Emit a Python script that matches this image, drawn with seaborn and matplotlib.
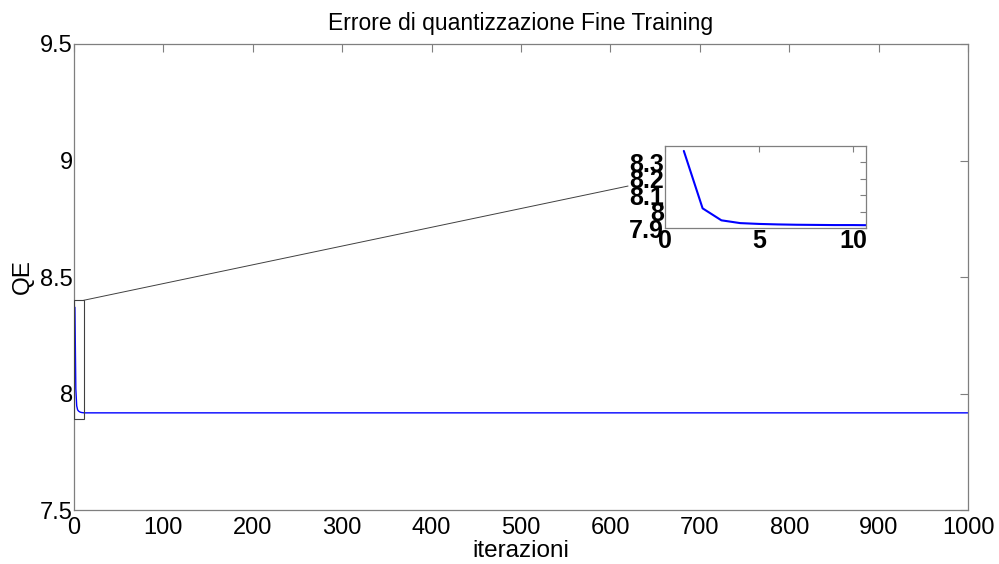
import matplotlib
matplotlib.use("Agg")
import matplotlib.pyplot as plt
from matplotlib.patches import Rectangle, ConnectionPatch
import pandas as pd
import seaborn as sns

# Quantization error per iteration (fine training phase); flat after ~12 iterations
iterazioni = [1, 2, 3, 4, 5, 6, 7, 8, 9, 10, 11, 12, 1000]
qe = [8.37, 8.02, 7.947, 7.930, 7.925, 7.922, 7.920, 7.919, 7.918, 7.918, 7.917, 7.917, 7.917]

main_yticks = [7.5, 8, 8.5, 9, 9.5]
main_yticklabels = ["7.5", "8", "8.5", "9", "9.5"]
main_xticks = [0, 100, 200, 300, 400, 500, 600, 700, 800, 900, 1000]
inset_yticks = [7.9, 8.0, 8.1, 8.2, 8.3]
inset_yticklabels = ["7.9", "8", "8.1", "8.2", "8.3"]
inset_xticks = [0, 5, 10]

df = pd.DataFrame({"iterazioni": iterazioni, "QE": qe})

sns.set_theme(style="white")
plt.rcParams["font.family"] = ["Liberation Sans", "DejaVu Sans"]
plt.rcParams["text.color"] = "black"
plt.rcParams["axes.labelcolor"] = "black"

fig = plt.figure(figsize=(9.99, 5.64), dpi=100)
spine_col = "#7f7f7f"

ax = fig.add_axes([0.0741, 0.0957, 0.8949, 0.8263])
sns.lineplot(data=df, x="iterazioni", y="QE", ax=ax, color="#0000ff", linewidth=1.0)
ax.set_xlim(0, 1000)
ax.set_ylim(7.5, 9.5)
ax.set_xticks(main_xticks)
ax.set_xticklabels([str(t) for t in main_xticks], fontsize=17)
ax.set_yticks(main_yticks)
ax.set_yticklabels(main_yticklabels, fontsize=17)
ax.set_xlabel("iterazioni", fontsize=17.5, labelpad=1)
ax.set_ylabel("QE", fontsize=17.5, labelpad=4)
ax.set_title("Errore di quantizzazione Fine Training", fontsize=16.5, pad=10)
for s in ax.spines.values():
    s.set_color(spine_col)
    s.set_linewidth(0.9)
ax.tick_params(axis="both", direction="in", length=6, width=0.8, color=spine_col,
               top=True, right=True, labelcolor="black")
ax.tick_params(axis="x", pad=5)
ax.tick_params(axis="y", pad=1)

# zoom box around the first iterations
zoom_x0, zoom_x1 = 0, 10.7
zoom_y0, zoom_y1 = 7.89, 8.4
ax.add_patch(Rectangle((zoom_x0, zoom_y0), zoom_x1 - zoom_x0, zoom_y1 - zoom_y0,
                       fill=False, edgecolor="#404040", linewidth=0.8, zorder=5))

axin = fig.add_axes([0.6657, 0.5957, 0.2012, 0.1454])
sns.lineplot(data=df, x="iterazioni", y="QE", ax=axin, color="#0000ff", linewidth=1.5)
axin.set_xlim(0, 10.7)
axin.set_ylim(7.9, 8.4)
axin.set_xticks(inset_xticks)
axin.set_xticklabels([str(t) for t in inset_xticks], fontsize=18, fontweight="bold")
axin.set_yticks(inset_yticks)
axin.set_yticklabels(inset_yticklabels, fontsize=18, fontweight="bold")
axin.set_xlabel("")
axin.set_ylabel("")
for s in axin.spines.values():
    s.set_color(spine_col)
    s.set_linewidth(0.9)
axin.tick_params(direction="in", length=4, width=0.8, color=spine_col,
                 top=True, right=True, pad=1, labelcolor="black")

con = ConnectionPatch(xyA=(zoom_x1, zoom_y1), coordsA=ax.transData,
                      xyB=(-0.184, 0.512), coordsB=axin.transAxes,
                      color="#404040", linewidth=0.7)
fig.add_artist(con)

fig.savefig("out.png", dpi=100, facecolor="white")
